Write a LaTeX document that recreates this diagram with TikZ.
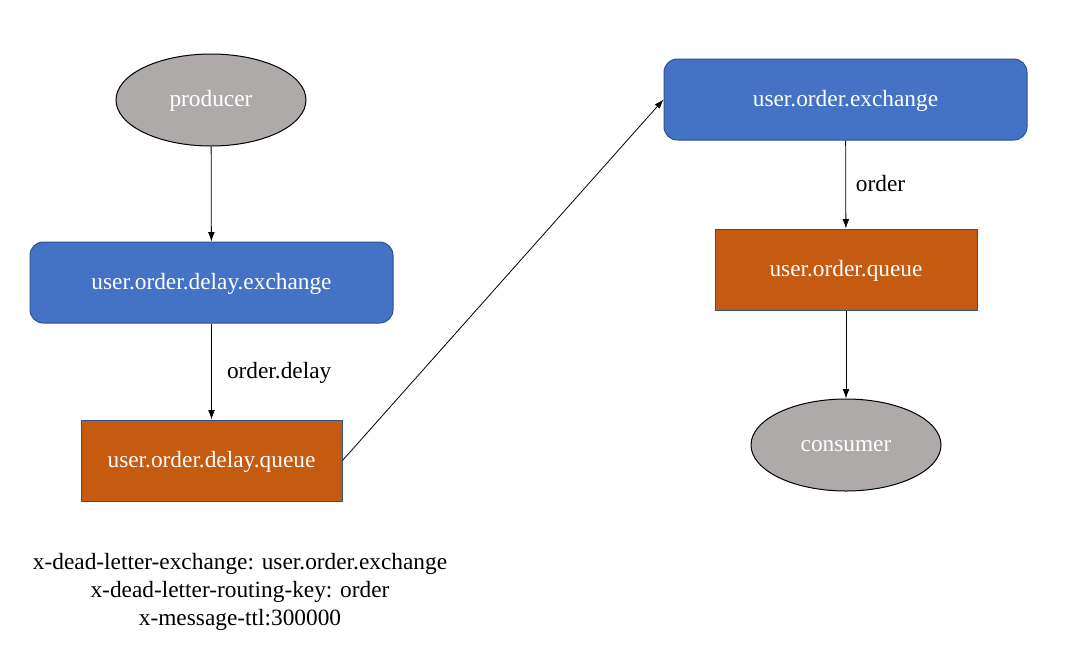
\documentclass[tikz,border=0pt]{standalone}
\usepackage{fontspec}
\setmainfont{Liberation Serif}
\usetikzlibrary{shapes.geometric,arrows.meta}
\definecolor{xblue}{HTML}{4472C4}
\definecolor{xorange}{HTML}{C55A11}
\definecolor{xedge}{HTML}{2F528F}
\definecolor{xgray}{HTML}{AEAAAA}

\begin{document}
\begin{tikzpicture}[x=0.75pt,y=-0.75pt,
    every node/.style={font=\fontsize{17.5pt}{21pt}\selectfont,text height=14pt,text depth=4pt},
    endpoint/.style={ellipse,draw=black,fill=xgray,text=white,line width=0.75pt,
      minimum width=190*0.75pt,minimum height=92*0.75pt,inner sep=0pt},
    exchange/.style={rectangle,rounded corners=10pt,draw=xedge,fill=xblue,text=white,
      line width=0.75pt,minimum width=363*0.75pt,minimum height=81*0.75pt},
    queue/.style={rectangle,draw=xedge,fill=xorange,text=white,line width=0.75pt,
      minimum height=81*0.75pt},
    flow/.style={-{Latex[length=7pt,width=5pt]},line width=0.6pt}]
    \useasboundingbox (0,0) rectangle (1073,647);
    \node [endpoint] (producer) at (211,100) {producer};
    \node [exchange] (delayx) at (211.5,282.5) {user.order.delay.exchange};
    \node [queue,minimum width=261*0.75pt] (delayq) at (211.5,460.5) {user.order.delay.queue};
    \node [exchange] (orderx) at (845.5,99.5) {user.order.exchange};
    \node [queue,minimum width=262*0.75pt] (orderq) at (846,269.5) {user.order.queue};
    \node [endpoint] (consumer) at (846,445) {consumer};
    \draw [flow] (producer) -- (delayx);
    \draw [flow] (delayx) -- node [right,xshift=8pt] {order.delay} (delayq);
    \draw [flow] (delayq.east) -- (orderx.west);
    \draw [flow] (orderx) -- node [right,xshift=4pt] {order} (orderq);
    \draw [flow] (orderq) -- (consumer);
    % queue arguments
    \node [align=center,text height=,text depth=] (args) at (240,592)
      {x-dead-letter-exchange: user.order.exchange\\
       x-dead-letter-routing-key: order\\
       x-message-ttl:300000};
\end{tikzpicture}
\end{document}
